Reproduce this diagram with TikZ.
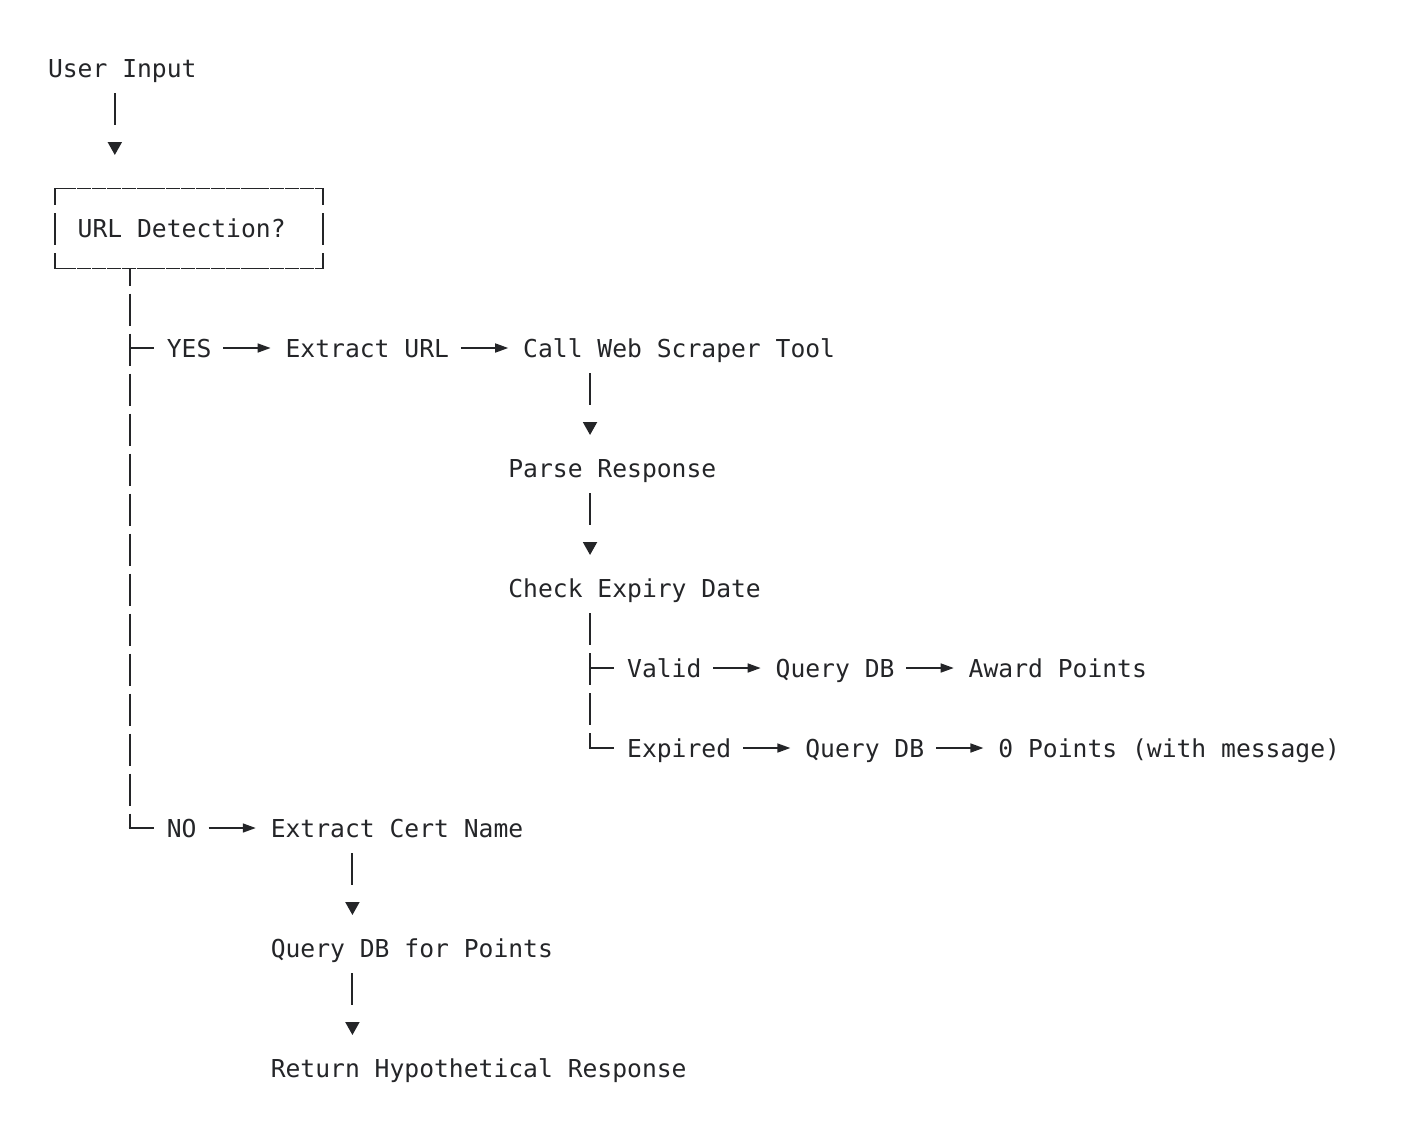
\documentclass[tikz,border=0pt]{standalone}
\usepackage{fontspec}
\setmonofont{DejaVu Sans Mono}
\usetikzlibrary{arrows.meta,calc}
\definecolor{ink}{RGB}{36,37,40}
\begin{document}
\begin{tikzpicture}[x=1pt,y=-1pt,
  txt/.style={font=\ttfamily\fontsize{24.67}{30}\selectfont, text=ink, inner sep=0pt, outer sep=0pt, anchor=west, text height=29.5pt, text depth=10.5pt},
  boxnode/.style={draw=none, inner sep=0pt, outer sep=0pt, minimum width=267.3pt, minimum height=80pt},
  hborder/.style={draw=ink, line width=1.9pt, dash pattern=on 14.05pt off 0.8pt, dash phase=7pt},
  vborder/.style={draw=ink, line width=1.9pt, dash pattern=on 32pt off 8pt, dash phase=15.5pt},
  varrow/.style={draw=ink, line width=1.9pt, dash pattern=on 32pt off 200pt, -{Triangle[length=13pt,width=14pt]}, shorten <=5pt, shorten >=13pt},
  harrow/.style={draw=ink, line width=1.6pt, -{Triangle[length=13pt,width=9pt]}, shorten <=12pt, shorten >=15pt},
  trunk/.style={draw=ink, line width=1.9pt, dash pattern=on 32pt off 8pt},
  stub/.style={draw=ink, line width=1.9pt, shorten >=13pt}
]
\useasboundingbox[fill=white] (0,0) rectangle (1410,1136);

% column coordinates
\coordinate (c4) at (114.825,0);
\coordinate (c5) at (129.675,0);
\coordinate (c20) at (352.425,0);
\coordinate (c36) at (590.025,0);

% nodes
\node[txt] (user) at (48,68) {User Input};
\node[boxnode] (box) at (189.075,228.5) {};
\node[txt] (urltxt) at (77.7,228) {URL Detection?};
\node[txt] (yes) at (166.8,348) {YES};
\node[txt] (exurl) at (285.6,348) {Extract URL};
\node[txt] (call) at (523.2,348) {Call Web Scraper Tool};
\node[txt] (parse) at (508.35,468) {Parse Response};
\node[txt] (check) at (508.35,588) {Check Expiry Date};
\node[txt] (valid) at (627.15,668) {Valid};
\node[txt] (qdb1) at (775.65,668) {Query DB};
\node[txt] (award) at (968.7,668) {Award Points};
\node[txt] (expired) at (627.15,748) {Expired};
\node[txt] (qdb2) at (805.35,748) {Query DB};
\node[txt] (zero) at (998.4,748) {0 Points (with message)};
\node[txt] (no) at (166.8,828) {NO};
\node[txt] (excert) at (270.75,828) {Extract Cert Name};
\node[txt] (qpts) at (270.75,948) {Query DB for Points};
\node[txt] (ret) at (270.75,1068) {Return Hypothetical Response};

% box borders
\draw[hborder] ([xshift=-0.95pt]box.north west) -- ([xshift=0.95pt]box.north east);
\draw[hborder] ([xshift=-0.95pt]box.south west) -- ([xshift=0.95pt]box.south east);
\draw[vborder] (box.north west) -- (box.south west);
\draw[vborder] (box.north east) -- (box.south east);

% connectors
\draw[varrow, shorten >=33.5pt] (user.south -| c4) -- (box.north -| c4);
\draw[trunk, dash phase=15pt] (box.south -| c5) -- (c5 |- no.west);
\draw[stub] (c5 |- yes.west) -- (yes.west);
\draw[stub] ([xshift=-0.95pt]c5 |- no.west) -- (no.west);
\draw[harrow] (yes.east) -- (exurl.west);
\draw[harrow] (exurl.east) -- (call.west);
\draw[varrow] (call.south -| c36) -- (parse.north -| c36);
\draw[varrow] (parse.south -| c36) -- (check.north -| c36);
\draw[trunk, shorten <=5pt] (check.south -| c36) -- (c36 |- expired.west);
\draw[stub] (c36 |- valid.west) -- (valid.west);
\draw[stub] ([xshift=-0.95pt]c36 |- expired.west) -- (expired.west);
\draw[harrow] (valid.east) -- (qdb1.west);
\draw[harrow] (qdb1.east) -- (award.west);
\draw[harrow] (expired.east) -- (qdb2.west);
\draw[harrow] (qdb2.east) -- (zero.west);
\draw[harrow] (no.east) -- (excert.west);
\draw[varrow] (excert.south -| c20) -- (qpts.north -| c20);
\draw[varrow] (qpts.south -| c20) -- (ret.north -| c20);
\end{tikzpicture}
\end{document}
